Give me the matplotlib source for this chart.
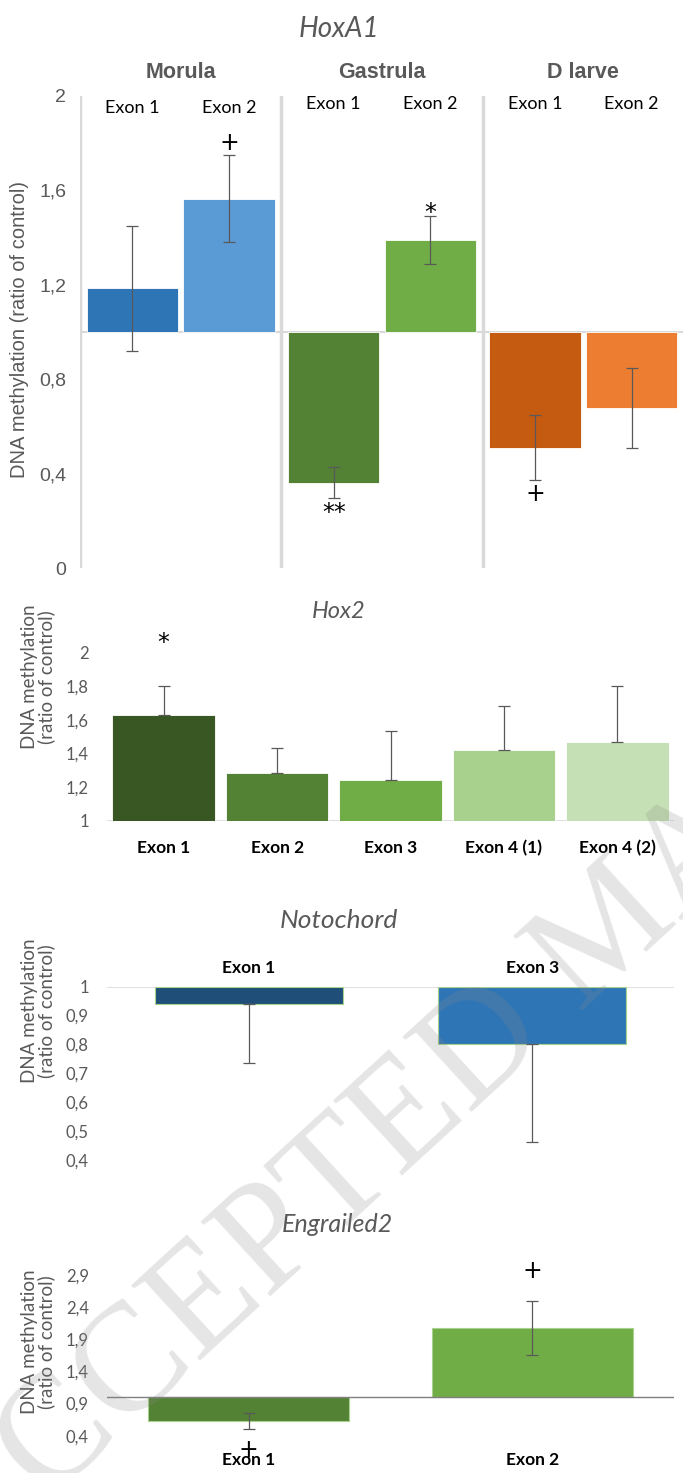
import matplotlib
matplotlib.use('Agg')
import matplotlib.pyplot as plt
import matplotlib.transforms as mtransforms

W, H = 683, 1473

# ---- HoxA1 ----
hoxa1_stages = ['Morula', 'Gastrula', 'D larve']
hoxa1_exons = ['Exon 1', 'Exon 2']
hoxa1_values = [[1.185, 1.565], [0.362, 1.390], [0.510, 0.678]]
hoxa1_err = [[0.264, 0.185], [0.064, 0.100], [0.139, 0.169]]
hoxa1_colors = [['#2E75B6', '#5B9BD5'], ['#548235', '#70AD47'], ['#C55A11', '#ED7D31']]
hoxa1_marks = [['', '+'], ['**', '*'], ['+', '']]
hoxa1_ticks = [0, 0.4, 0.8, 1.2, 1.6, 2]

# ---- Hox2 ----
hox2_exons = ['Exon 1', 'Exon 2', 'Exon 3', 'Exon 4 (1)', 'Exon 4 (2)']
hox2_values = [1.627, 1.284, 1.240, 1.421, 1.468]
hox2_err = [0.177, 0.151, 0.296, 0.264, 0.332]
hox2_colors = ['#385723', '#548235', '#70AD47', '#A9D18E', '#C5E0B4']
hox2_marks = ['*', '', '', '', '']
hox2_ticks = [1, 1.2, 1.4, 1.6, 1.8, 2]

# ---- Notochord ----
noto_exons = ['Exon 1', 'Exon 3']
noto_values = [0.939, 0.802]
noto_err = [0.204, 0.341]
noto_colors = ['#1F4E79', '#2E75B6']
noto_ticks = [0.4, 0.5, 0.6, 0.7, 0.8, 0.9, 1]

# ---- Engrailed2 ----
en2_exons = ['Exon 1', 'Exon 2']
en2_values = [0.629, 2.070]
en2_err = [0.124, 0.420]
en2_colors = ['#548235', '#70AD47']
en2_marks = ['+', '+']
en2_ticks = [0.4, 0.9, 1.4, 1.9, 2.4, 2.9]

GRAY = '#595959'
CAL = ['Lato', 'DejaVu Sans']
ARIAL = ['Liberation Sans', 'DejaVu Sans']


def box(left, top, right, bottom):
    # pixel box -> figure fraction
    return [left / W, 1 - bottom / H, (right - left) / W, (bottom - top) / H]


def comma(v):
    return ('%g' % v).replace('.', ',')


def mark(ax, txt, x, y, off):
    if txt:
        ax.annotate(txt, xy=(x, y), xytext=(0, off), textcoords='offset pixels',
                    ha='center', va='center', fontsize=17, color='black',
                    annotation_clip=False)


fig = plt.figure(figsize=(W / 100, H / 100), dpi=100)

# ================= HoxA1 =================
ax1 = fig.add_axes(box(80, 96, 684, 568))
ax1.set_xlim(-0.5, 2.5)
ax1.set_ylim(0, 2)
for s in ax1.spines.values():
    s.set_visible(False)
ax1.axhline(1, color='#D9D9D9', lw=1.5, zorder=1)
for xs in [-0.5, 0.5, 1.5]:
    ax1.axvline(xs, color='#D9D9D9', lw=2.5, zorder=1)
off1 = [[0, 12], [-15, 3], [-14, 0]]
trans = mtransforms.blended_transform_factory(ax1.transData, fig.transFigure)
for g, stage in enumerate(hoxa1_stages):
    ax1.text(g, 1 - 73 / H, stage, transform=trans, ha='center', va='center',
             fontsize=15.5, fontweight='bold', color=GRAY, family=ARIAL)
    for k in range(2):
        x = g + (k - 0.5) * 0.48
        v = hoxa1_values[g][k]
        e = hoxa1_err[g][k]
        ax1.bar(x, v - 1, bottom=1, width=0.455, color=hoxa1_colors[g][k],
                edgecolor='white', lw=0.6, zorder=2)
        ax1.errorbar(x, v, yerr=e, fmt='none', ecolor=GRAY, elinewidth=0.9,
                     capsize=4, capthick=0.9, zorder=3)
        ylab = (108 if g == 0 else 104) / H
        ax1.text(x, 1 - ylab, hoxa1_exons[k], transform=trans, ha='center',
                 va='center', fontsize=13, color='black', family=CAL)
        end = v + e if v > 1 else v - e
        mark(ax1, hoxa1_marks[g][k], x, end, off1[g][k])
ax1.set_xticks([])
ax1.set_yticks(hoxa1_ticks)
ax1.set_yticklabels([comma(t) for t in hoxa1_ticks], family=ARIAL)
ax1.tick_params(axis='y', length=0, pad=10, labelsize=14, labelcolor=GRAY)
fig.text(20 / W, 1 - 330 / H, 'DNA methylation (ratio of control)', rotation=90,
         ha='center', va='center', fontsize=14.5, color=GRAY, family=ARIAL)
fig.text(339 / W, 1 - 29 / H, 'HoxA1', ha='center', va='center', fontsize=20,
         style='italic', color=GRAY, family=CAL)


def side_label(ycen):
    fig.text(38 / W, 1 - ycen / H, 'DNA methylation\n(ratio of control)', rotation=90,
             ha='center', va='center', fontsize=13.5, color=GRAY, family=CAL,
             multialignment='center', linespacing=1.0)


def style_axis(ax, ticks):
    for s in ax.spines.values():
        s.set_visible(False)
    ax.set_yticks(ticks)
    ax.set_yticklabels([comma(t) for t in ticks], family=CAL)
    ax.tick_params(axis='y', length=0, pad=13, labelsize=12, labelcolor=GRAY)
    ax.tick_params(axis='x', length=0)


# ================= Hox2 =================
ax2 = fig.add_axes(box(107, 652.7, 674, 820.7))
ax2.set_xlim(-0.5, 4.5)
ax2.set_ylim(1, 2)
style_axis(ax2, hox2_ticks)
ax2.axhline(1, color='#D9D9D9', lw=1.2, zorder=1)
xs2 = list(range(len(hox2_exons)))
ax2.bar(xs2, [v - 1 for v in hox2_values], bottom=1, width=0.905, color=hox2_colors,
        edgecolor='white', lw=0.6, zorder=2)
ax2.errorbar(xs2, hox2_values, yerr=[[0] * 5, hox2_err], fmt='none', ecolor=GRAY,
             elinewidth=0.9, capsize=4, capthick=0.9, zorder=3)
for x, v, e, m in zip(xs2, hox2_values, hox2_err, hox2_marks):
    mark(ax2, m, x, v + e, 43)
ax2.set_xticks(xs2)
ax2.set_xticklabels(hox2_exons, fontsize=12.5, fontweight='bold', family=CAL)
ax2.tick_params(axis='x', pad=14)
side_label(677)
fig.text(339 / W, 1 - 612 / H, 'Hox2', ha='center', va='center', fontsize=17,
         style='italic', color=GRAY, family=CAL)

# ================= Notochord =================
ax3 = fig.add_axes(box(107, 986.7, 674, 1160))
ax3.set_xlim(-0.5, 1.5)
ax3.set_ylim(0.4, 1.0)
style_axis(ax3, noto_ticks)
ax3.axhline(1, color='#D9D9D9', lw=1.2, zorder=1)
xs3 = list(range(len(noto_exons)))
ax3.bar(xs3, [v - 1 for v in noto_values], bottom=1, width=0.663, color=noto_colors,
        edgecolor='#A9D18E', lw=0.8, zorder=2)
ax3.errorbar(xs3, noto_values, yerr=[noto_err, [0, 0]], fmt='none', ecolor=GRAY,
             elinewidth=0.9, capsize=4, capthick=0.9, zorder=3)
ax3.xaxis.tick_top()
ax3.set_xticks(xs3)
ax3.set_xticklabels(noto_exons, fontsize=12.5, fontweight='bold', family=CAL)
ax3.tick_params(axis='x', pad=8)
side_label(1011)
fig.text(339 / W, 1 - 920 / H, 'Notochord', ha='center', va='center', fontsize=19,
         style='italic', color=GRAY, family=CAL)

# ================= Engrailed2 =================
ax4 = fig.add_axes(box(107, 1275, 674, 1435.7))
ax4.set_xlim(-0.5, 1.5)
ax4.set_ylim(0.4, 2.9)
style_axis(ax4, en2_ticks)
ax4.axhline(1, color='#7F7F7F', lw=1.0, zorder=3)
xs4 = list(range(len(en2_exons)))
ax4.bar(xs4, [v - 1 for v in en2_values], bottom=1, width=0.71, color=en2_colors,
        edgecolor='#A9D18E', lw=0.8, zorder=2)
ax4.errorbar(xs4, en2_values, yerr=en2_err, fmt='none', ecolor=GRAY,
             elinewidth=0.9, capsize=4, capthick=0.9, zorder=3)
for x, v, e, m in zip(xs4, en2_values, en2_err, en2_marks):
    if v > 1:
        mark(ax4, m, x, v + e, 30)
    else:
        mark(ax4, m, x, v - e, -21)
ax4.set_xticks(xs4)
ax4.set_xticklabels(en2_exons, fontsize=12.5, fontweight='bold', family=CAL)
ax4.tick_params(axis='x', pad=12)
side_label(1342)
fig.text(337 / W, 1 - 1225 / H, 'Engrailed2', ha='center', va='center', fontsize=18,
         style='italic', color=GRAY, family=CAL)

# watermark
fig.text(613 / W, 1 - 932 / H, 'ACCEPTED MANUSCRIPT', rotation=42.5,
         rotation_mode='anchor', ha='center', va='center', fontsize=111,
         family=['Liberation Serif', 'DejaVu Serif'], color='#888888', alpha=0.22,
         zorder=10)

fig.savefig('out.png', dpi=100)
